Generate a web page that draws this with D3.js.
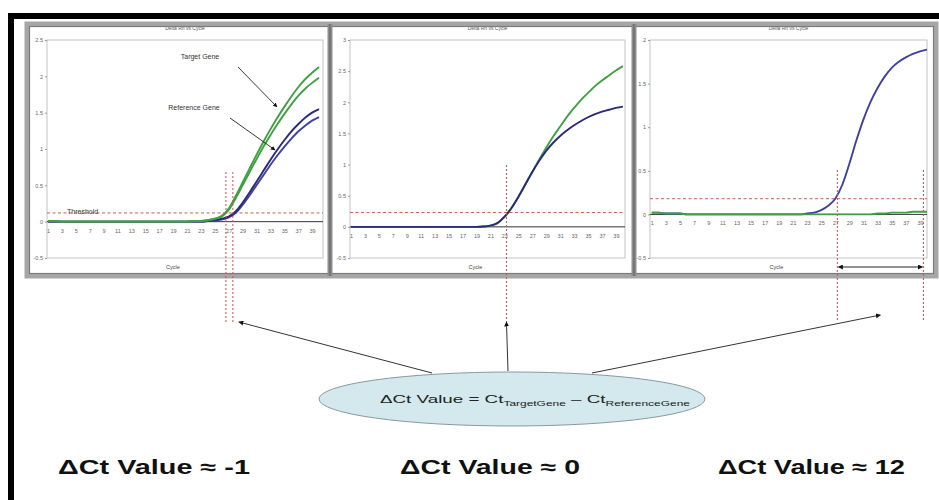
<!DOCTYPE html>
<html>
<head>
<meta charset="utf-8">
<script src="https://cdn.jsdelivr.net/npm/d3@7/dist/d3.min.js"></script>
<style>
  html, body { margin: 0; padding: 0; background: #fff; }
  svg { display: block; font-family: "Liberation Sans", Arial, sans-serif; }
</style>
</head>
<body>
<svg id="chart" width="939" height="500"></svg>
<script>
// ---- data ----------------------------------------------------------------
const cycles = d3.range(1, 41);
const xTickLabels = [1, 3, 5, 7, 9, 11, 13, 15, 17, 19, 21, 23, 25, 27, 29, 31, 33, 35, 37, 39];
const panelTitle = "Delta Rn vs Cycle";
const xAxisTitle = "Cycle";

// Panel 1: target amplifies about one cycle before the reference
const p1YTicks = [-0.5, 0, 0.5, 1, 1.5, 2, 2.5];
const p1Target1 = [0.01, 0.01, 0.00, 0.00, 0.00, 0.00, 0.00, 0.00, 0.00, 0.00,
                   0.00, 0.00, 0.00, 0.00, 0.00, 0.00, 0.00, 0.00, 0.00, 0.00,
                   0.00, 0.01, 0.01, 0.02, 0.04, 0.08, 0.18, 0.35, 0.54, 0.73,
                   0.92, 1.10, 1.27, 1.43, 1.58, 1.72, 1.85, 1.96, 2.05, 2.13];
const p1Target2 = [0.01, 0.01, 0.00, 0.00, 0.00, 0.00, 0.00, 0.00, 0.00, 0.00,
                   0.00, 0.00, 0.00, 0.00, 0.00, 0.00, 0.00, 0.00, 0.00, 0.00,
                   0.00, 0.01, 0.01, 0.02, 0.04, 0.07, 0.16, 0.32, 0.50, 0.68,
                   0.86, 1.03, 1.19, 1.34, 1.48, 1.61, 1.73, 1.83, 1.91, 1.98];
const p1Ref1    = [0.00, 0.00, 0.00, 0.00, 0.00, 0.00, 0.00, 0.00, 0.00, 0.00,
                   0.00, 0.00, 0.00, 0.00, 0.00, 0.00, 0.00, 0.00, 0.00, 0.00,
                   0.00, 0.00, 0.00, 0.01, 0.02, 0.04, 0.07, 0.14, 0.26, 0.40,
                   0.55, 0.70, 0.85, 0.99, 1.12, 1.24, 1.34, 1.43, 1.50, 1.55];
const p1Ref2    = [0.00, 0.00, 0.00, 0.00, 0.00, 0.00, 0.00, 0.00, 0.00, 0.00,
                   0.00, 0.00, 0.00, 0.00, 0.00, 0.00, 0.00, 0.00, 0.00, 0.00,
                   0.00, 0.00, 0.00, 0.01, 0.02, 0.03, 0.06, 0.12, 0.23, 0.36,
                   0.50, 0.64, 0.78, 0.91, 1.03, 1.14, 1.24, 1.32, 1.39, 1.44];
const p1Threshold = 0.12;
const p1CtTarget = 26.6;
const p1CtRef = 27.6;

// Panel 2: both genes cross the threshold together
const p2YTicks = [-0.5, 0, 0.5, 1, 1.5, 2, 2.5, 3];
const p2Target = [0.00, 0.00, 0.00, 0.00, 0.00, 0.00, 0.00, 0.00, 0.00, 0.00,
                  0.00, 0.00, 0.00, 0.00, 0.00, 0.00, 0.00, 0.00, 0.00, 0.005,
                  0.02, 0.06, 0.16, 0.30, 0.48, 0.68, 0.88, 1.08, 1.27, 1.45,
                  1.61, 1.77, 1.91, 2.04, 2.15, 2.26, 2.35, 2.43, 2.51, 2.58];
const p2Ref    = [0.00, 0.00, 0.00, 0.00, 0.00, 0.00, 0.00, 0.00, 0.00, 0.00,
                  0.00, 0.00, 0.00, 0.00, 0.00, 0.00, 0.00, 0.00, 0.00, 0.005,
                  0.02, 0.06, 0.16, 0.30, 0.48, 0.68, 0.88, 1.06, 1.22, 1.35,
                  1.46, 1.55, 1.63, 1.70, 1.76, 1.81, 1.85, 1.88, 1.91, 1.93];
const p2Threshold = 0.23;
const p2CtTarget = 23.3;
const p2CtRef = 23.3;

// Panel 3: only the reference gene amplifies
const p3YTicks = [-0.5, 0, 0.5, 1, 1.5, 2];
const p3Ref    = [0.02, 0.02, 0.01, 0.01, 0.01, 0.00, 0.00, 0.00, 0.00, 0.00,
                  0.00, 0.00, 0.00, 0.00, 0.00, 0.00, 0.00, 0.00, 0.00, 0.00,
                  0.00, 0.00, 0.01, 0.02, 0.05, 0.10, 0.18, 0.34, 0.58, 0.85,
                  1.09, 1.29, 1.45, 1.58, 1.68, 1.75, 1.80, 1.84, 1.87, 1.89];
const p3Target = [0.02, 0.02, 0.01, 0.01, 0.01, 0.00, 0.00, 0.00, 0.00, 0.00,
                  0.00, 0.00, 0.00, 0.00, 0.00, 0.00, 0.00, 0.00, 0.00, 0.00,
                  0.00, 0.00, 0.00, 0.00, 0.00, 0.00, 0.00, 0.00, 0.00, 0.00,
                  0.00, 0.00, 0.01, 0.01, 0.02, 0.02, 0.02, 0.03, 0.03, 0.03];
const p3Threshold = 0.18;
const p3CtTarget = 39.5;
const p3CtRef = 27.3;

const formulaParts = ["\u0394Ct Value = Ct", "TargetGene", " \u2013 Ct", "ReferenceGene"];
const deltaLabels = ["\u0394Ct Value \u2248  -1", "\u0394Ct Value \u2248  0", "\u0394Ct Value \u2248 12"];

// ---- drawing -------------------------------------------------------------
const GREEN = "#3fa044", BLUE = "#4040a0", NAVY = "#2a2a78";
const svg = d3.select("#chart");

const defs = svg.append("defs");
defs.append("marker").attr("id", "head").attr("viewBox", "0 0 10 10")
  .attr("refX", 9).attr("refY", 5).attr("markerWidth", 5).attr("markerHeight", 5)
  .attr("orient", "auto-start-reverse")
  .append("path").attr("d", "M0,0 L10,5 L0,10 z").attr("fill", "#111");

// black page border (top and left)
svg.append("rect").attr("x", 8).attr("y", 13).attr("width", 931).attr("height", 6).attr("fill", "#000");
svg.append("rect").attr("x", 8).attr("y", 13).attr("width", 6).attr("height", 487).attr("fill", "#000");

const plotTop = 40, plotBottom = 258;
const panels = [
  { fx0: 27, fx1: 330, px0: 47, px1: 323, xDom: [0.86, 40.57], yDom: [-0.5, 2.5], yTicks: p1YTicks,
    series: [[p1Ref2, BLUE], [p1Ref1, NAVY], [p1Target2, GREEN], [p1Target1, GREEN]],
    threshold: p1Threshold, ct: [p1CtTarget, p1CtRef] },
  { fx0: 330, fx1: 634, px0: 350, px1: 625, xDom: [0.86, 40.3], yDom: [-0.5, 3], yTicks: p2YTicks,
    series: [[p2Target, GREEN], [p2Ref, NAVY]],
    threshold: p2Threshold, ct: [p2CtTarget] },
  { fx0: 634, fx1: 936, px0: 650, px1: 927, xDom: [0.75, 40.0], yDom: [-0.5, 2], yTicks: p3YTicks,
    series: [[p3Ref, BLUE], [p3Target, GREEN]],
    threshold: p3Threshold, ct: [p3CtRef, p3CtTarget], bracket: true }
];

panels.forEach((p, i) => {
  const x = d3.scaleLinear().domain(p.xDom).range([p.px0, p.px1]);
  const y = d3.scaleLinear().domain(p.yDom).range([plotBottom, plotTop]);
  p.x = x; p.y = y;
  const g = svg.append("g");

  // plot area border
  g.append("rect").attr("x", p.px0).attr("y", plotTop)
    .attr("width", p.px1 - p.px0).attr("height", plotBottom - plotTop)
    .attr("fill", "#fff").attr("stroke", "#c4c4c4").attr("stroke-width", 1);

  // title and x title
  g.append("text").attr("x", (p.px0 + p.px1) / 2).attr("y", 30).attr("text-anchor", "middle")
    .attr("font-size", 5).attr("fill", "#555").text(panelTitle);
  g.append("text").attr("x", (p.px0 + p.px1) / 2 - 12).attr("y", 269).attr("text-anchor", "middle")
    .attr("font-size", 5.5).attr("fill", "#444").text(xAxisTitle);

  // y axis tick labels
  const ya = g.append("g").attr("transform", `translate(${p.px0},0)`)
    .call(d3.axisLeft(y).tickValues(p.yTicks).tickSize(2).tickPadding(2).tickFormat(d => String(d)));
  ya.select(".domain").remove();
  ya.selectAll("line").attr("stroke", "#999");
  ya.selectAll("text").attr("font-size", 5.5).attr("fill", "#666").attr("font-family", "Liberation Sans, Arial");

  // zero baseline
  g.append("line").attr("x1", p.px0).attr("x2", p.px1).attr("y1", y(0)).attr("y2", y(0))
    .attr("stroke", "#333").attr("stroke-width", 1);

  // x axis tick labels under the baseline
  const xa = g.append("g").attr("transform", `translate(0,${y(0)})`)
    .call(d3.axisBottom(x).tickValues(xTickLabels).tickSize(0).tickPadding(7));
  xa.select(".domain").remove();
  xa.selectAll("text").attr("font-size", 5.5).attr("fill", "#666").attr("font-family", "Liberation Sans, Arial");

  // threshold
  g.append("line").attr("x1", p.px0).attr("x2", p.px1).attr("y1", y(p.threshold)).attr("y2", y(p.threshold))
    .attr("stroke", "#c4604c").attr("stroke-width", 1).attr("stroke-dasharray", "3,2.5");

  // amplification curves
  const line = d3.line().x((d, k) => x(cycles[k])).y(d => y(d)).curve(d3.curveMonotoneX);
  p.series.forEach(([vals, col]) => {
    g.append("path").attr("d", line(vals)).attr("fill", "none")
      .attr("stroke", col).attr("stroke-width", 1.9).attr("stroke-linejoin", "round");
  });
});

// frame around the three plots
const frame = svg.append("g");
frame.append("rect").attr("x", 27).attr("y", 24).attr("width", 909).attr("height", 252)
  .attr("fill", "none").attr("stroke", "#a6a6a6").attr("stroke-width", 5);
frame.append("rect").attr("x", 29.5).attr("y", 26.5).attr("width", 904).attr("height", 247)
  .attr("fill", "none").attr("stroke", "#7c7c7c").attr("stroke-width", 1.2);
[330, 634].forEach(xx => {
  frame.append("line").attr("x1", xx).attr("x2", xx).attr("y1", 24).attr("y2", 276)
    .attr("stroke", "#8e8e8e").attr("stroke-width", 5);
  frame.append("line").attr("x1", xx).attr("x2", xx).attr("y1", 24).attr("y2", 276)
    .attr("stroke", "#6e6e6e").attr("stroke-width", 1.5);
});

// Ct drop lines
const ctTop = [172, 165, 170];
panels.forEach((p, i) => {
  p.ct.forEach(c => {
    svg.append("line").attr("x1", p.x(c)).attr("x2", p.x(c)).attr("y1", ctTop[i]).attr("y2", 322)
      .attr("stroke", "#d25050").attr("stroke-width", 1).attr("stroke-dasharray", "2,2");
  });
});

// bracket between the two Ct values of panel 3
{
  const p = panels[2];
  svg.append("line").attr("x1", p.x(p.ct[0]) + 1).attr("x2", p.x(p.ct[1]) - 1).attr("y1", 267).attr("y2", 267)
    .attr("stroke", "#222").attr("stroke-width", 1)
    .attr("marker-start", "url(#head)").attr("marker-end", "url(#head)");
}

// panel 1 annotations
{
  const a = svg.append("g").attr("font-size", 7).attr("fill", "#333");
  a.append("text").attr("x", 200).attr("y", 59).attr("text-anchor", "middle").text("Target Gene");
  a.append("text").attr("x", 194).attr("y", 110).attr("text-anchor", "middle").text("Reference Gene");
  a.append("text").attr("x", 67).attr("y", 214).text("Threshold");
  svg.append("line").attr("x1", 238).attr("y1", 67).attr("x2", 277).attr("y2", 107)
    .attr("stroke", "#222").attr("stroke-width", 0.9).attr("marker-end", "url(#head)");
  svg.append("line").attr("x1", 230).attr("y1", 118).attr("x2", 275).attr("y2", 150)
    .attr("stroke", "#222").attr("stroke-width", 0.9).attr("marker-end", "url(#head)");
}

// formula ellipse
const ecx = 512, ecy = 399;
svg.append("ellipse").attr("cx", ecx).attr("cy", ecy).attr("rx", 193).attr("ry", 27)
  .attr("fill", "#d3e9ed").attr("stroke", "#8a9a9c").attr("stroke-width", 1);
{
  const t = svg.append("text").attr("x", 380).attr("y", 403).attr("fill", "#222")
    .attr("font-size", 11).attr("textLength", 310).attr("lengthAdjust", "spacingAndGlyphs");
  t.append("tspan").text(formulaParts[0]);
  t.append("tspan").attr("font-size", 7).attr("dy", 3).text(formulaParts[1]);
  t.append("tspan").attr("dy", -3).text(formulaParts[2]);
  t.append("tspan").attr("font-size", 7).attr("dy", 3).text(formulaParts[3]);
}

// arrows from the formula to each Ct pair
const arrows = [
  { from: [432, 373], to: [panels[0].x(p1CtRef) + 6, 322] },
  { from: [508, 371], to: [panels[1].x(p2CtRef), 322] },
  { from: [592, 373], to: [(panels[2].x(p3CtRef) + panels[2].x(p3CtTarget)) / 2, 315] }
];
arrows.forEach(a => {
  svg.append("line").attr("x1", a.from[0]).attr("y1", a.from[1]).attr("x2", a.to[0]).attr("y2", a.to[1])
    .attr("stroke", "#333").attr("stroke-width", 1).attr("marker-end", "url(#head)");
});

// delta Ct labels
const labelX = [58, 400, 718], labelW = [192, 180, 187];
deltaLabels.forEach((s, i) => {
  svg.append("text").attr("x", labelX[i]).attr("y", 474).attr("font-size", 20).attr("font-weight", "bold")
    .attr("fill", "#111").attr("textLength", labelW[i]).attr("lengthAdjust", "spacingAndGlyphs").text(s);
});
</script>
</body>
</html>
